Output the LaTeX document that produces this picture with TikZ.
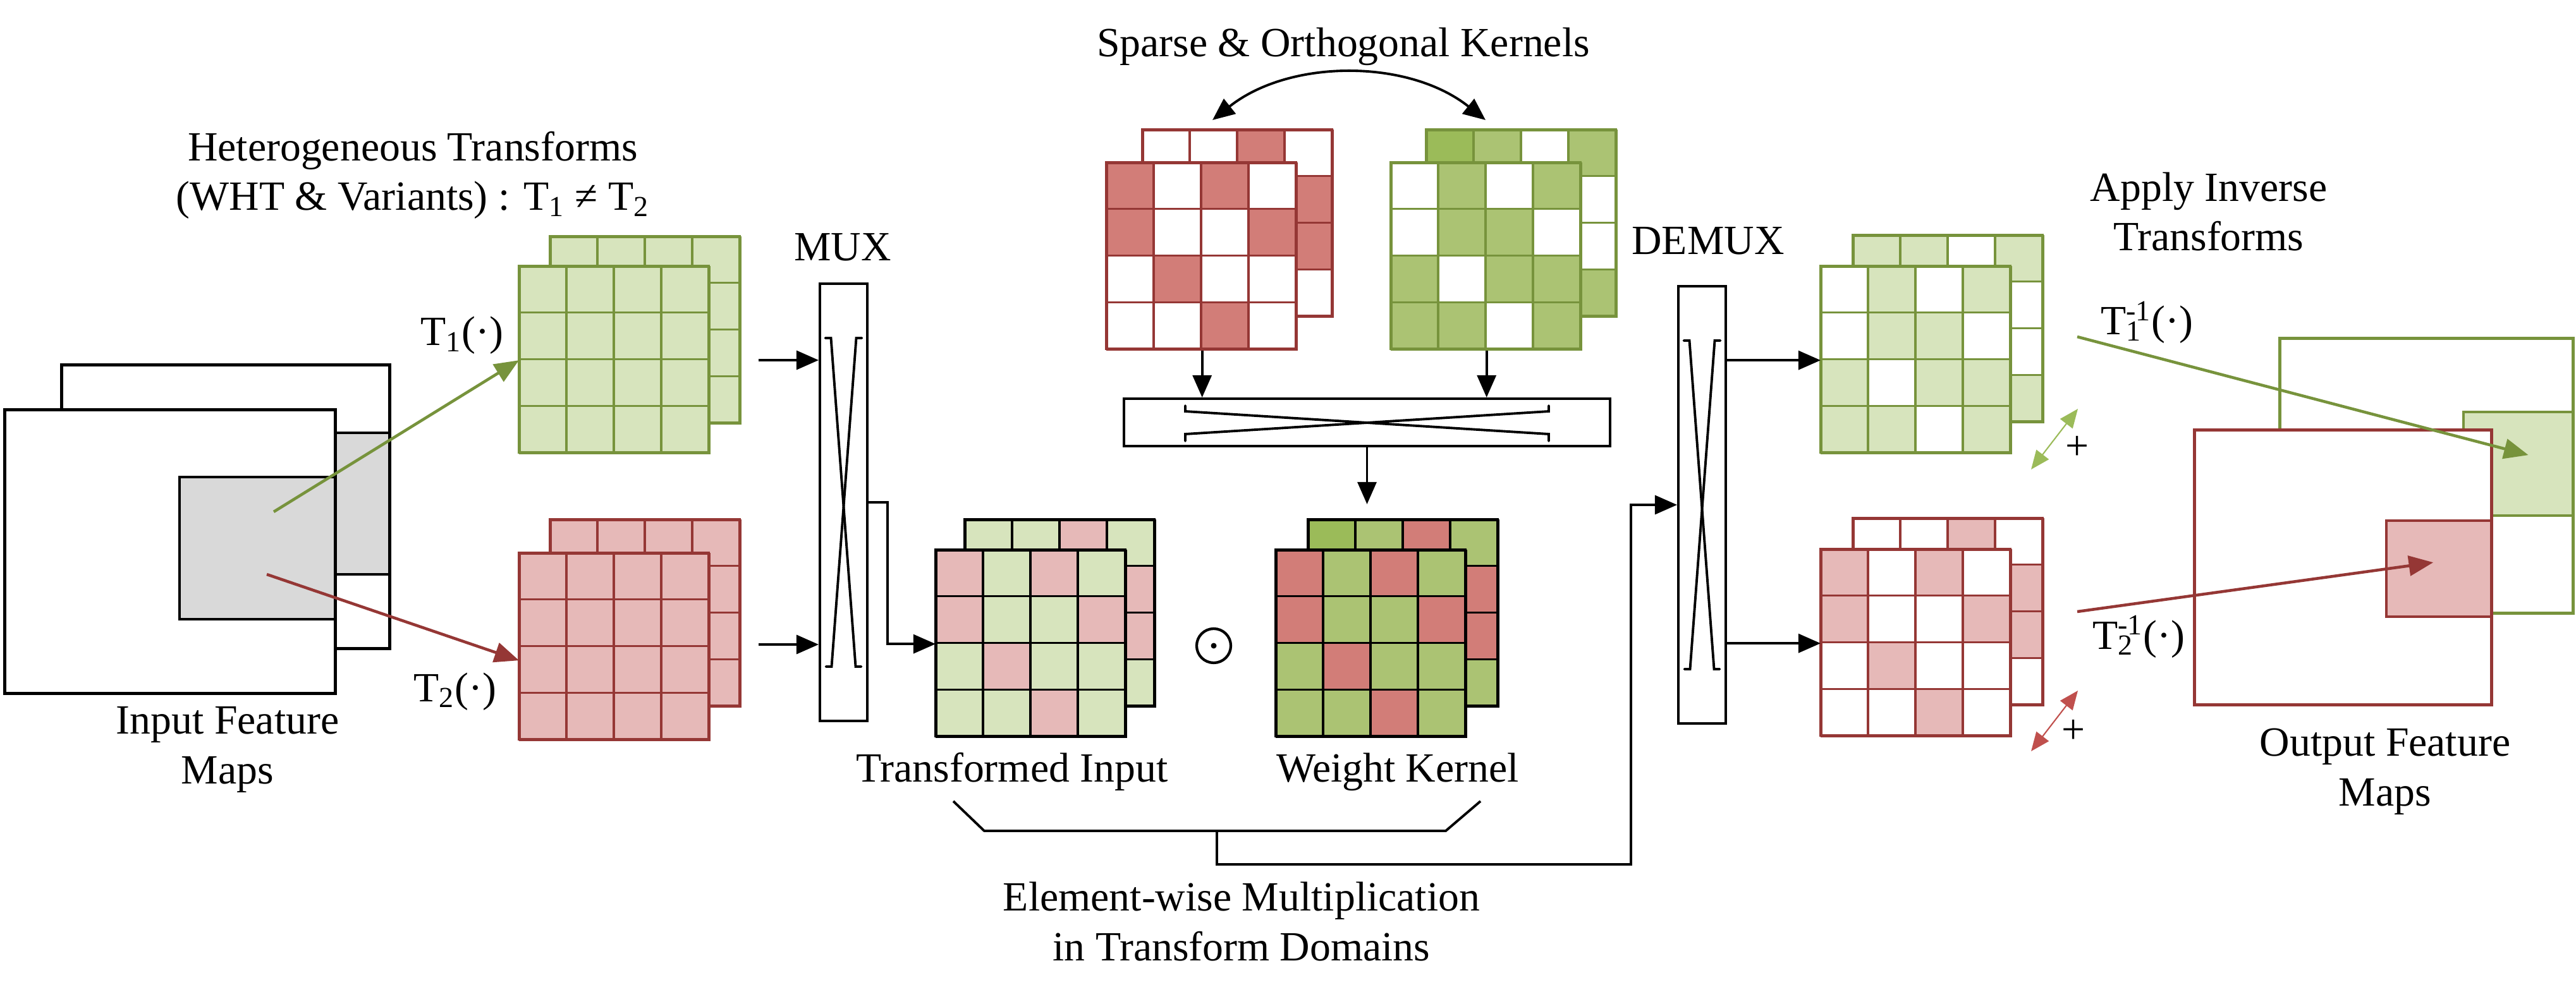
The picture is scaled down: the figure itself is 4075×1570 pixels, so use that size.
\documentclass[tikz,border=0pt]{standalone}
\usepackage{fontspec}
\setmainfont{Liberation Serif}
\usetikzlibrary{arrows.meta,calc}

\definecolor{lgreen}{HTML}{D7E4BD}
\definecolor{dgreen}{HTML}{77933C}
\definecolor{mgreen}{HTML}{ABC373}
\definecolor{kgreen}{HTML}{9BBB59}
\definecolor{lred}{HTML}{E6B9B8}
\definecolor{dred}{HTML}{953735}
\definecolor{mred}{HTML}{D27D78}
\definecolor{ared}{HTML}{C0504D}
\definecolor{lgrey}{HTML}{D9D9D9}

\newcommand{\lblfont}{\fontsize{18.7pt}{22.3pt}\selectfont}

% 4x4 grid of cells: name, top left corner, line colour, fills row by row
\newcommand{\cellgrid}[4]{%
  \foreach \f [count=\k from 0] in {#4} {
    \pgfmathtruncatemacro{\gr}{\k/4}
    \pgfmathtruncatemacro{\gc}{\k-4*\gr}
    \filldraw[cell, fill=\f, draw=#3] ($#2+(75*\gc,73.75*\gr)$) rectangle ++(75,73.75);
  }
  \node[gridframe, draw=#3] (#1) at #2 {};
}

% crossed wires inside a vertical switch box
\newcommand{\vcross}[1]{%
  \draw[xline] ($(#1)+(-29,-260)$) -- ++(9,0) -- ++(39,520) -- ++(9,0);
  \draw[xline] ($(#1)+(29,-260)$) -- ++(-9,0) -- ++(-39,520) -- ++(-9,0);
}

\begin{document}
\begin{tikzpicture}[x=0.01cm, y=-0.01cm,
    every node/.style={font=\lblfont, inner sep=0pt},
    lbl/.style={anchor=base, align=center},
    cell/.style={line width=0.9pt},
    gridframe/.style={rectangle, minimum width=3cm, minimum height=2.95cm,
      anchor=north west, line width=0.9pt},
    mapbox/.style={rectangle, draw, line width=1.4pt, anchor=north west, fill=white},
    patch/.style={rectangle, draw, line width=1.1pt, anchor=north west, fill=lgrey},
    switchbox/.style={rectangle, draw, line width=1.1pt, fill=white},
    xline/.style={line width=1.1pt, line cap=round},
    bline/.style={line width=1.1pt},
    barrow/.style={bline, -{Triangle[length=10pt,width=8.5pt]}},
    garrow/.style={draw=dgreen, line width=1.3pt, -{Triangle[length=11pt,width=9pt]}},
    rarrow/.style={draw=dred, line width=1.3pt, -{Triangle[length=11pt,width=9pt]}},
    twoway/.style={line width=0.6pt,
      {Triangle[length=8.5pt,width=7pt]}-{Triangle[length=8.5pt,width=7pt]}}]

  \useasboundingbox (0,0) rectangle (4075,1570);

  % input feature maps
  \node[mapbox, minimum width=5.19cm, minimum height=4.49cm] (inb) at (95,575) {};
  \node[patch, minimum width=2.46cm, minimum height=2.24cm] (inbp) at (368,683) {};
  \node[mapbox, minimum width=5.23cm, minimum height=4.49cm] (inf) at (5,646) {};
  \node[patch, minimum width=2.46cm, minimum height=2.25cm] (infp) at (282,753) {};
  \node[lbl] (inlbl) at (360,1240) {Input Feature\\Maps};

  \node[lbl] (hetlbl) at (653,333) {Heterogeneous Transforms\\(WHT \& Variants) : T\textsubscript{1} ≠ T\textsubscript{2}};

  % transformed copies
  \cellgrid{t1b}{(870,374)}{dgreen}{lgreen,lgreen,lgreen,lgreen,lgreen,lgreen,lgreen,lgreen,lgreen,lgreen,lgreen,lgreen,lgreen,lgreen,lgreen,lgreen}
  \cellgrid{t1}{(821,421)}{dgreen}{lgreen,lgreen,lgreen,lgreen,lgreen,lgreen,lgreen,lgreen,lgreen,lgreen,lgreen,lgreen,lgreen,lgreen,lgreen,lgreen}
  \cellgrid{t2b}{(870,822)}{dred}{lred,lred,lred,lred,lred,lred,lred,lred,lred,lred,lred,lred,lred,lred,lred,lred}
  \cellgrid{t2}{(821,875)}{dred}{lred,lred,lred,lred,lred,lred,lred,lred,lred,lred,lred,lred,lred,lred,lred,lred}
  \node[lbl] (t1lbl) at (731,547) {T\textsubscript{1}(·)};
  \node[lbl] (t2lbl) at (720,1110) {T\textsubscript{2}(·)};

  \coordinate (gsrc) at (433,810);
  \coordinate (rsrc) at (422,909);
  \draw[garrow] (gsrc) -- (t1.west);
  \draw[rarrow] (rsrc) -- ([yshift=-2.1mm]t2.west);

  % multiplexer
  \node[switchbox, minimum width=0.75cm, minimum height=6.92cm] (mux) at (1334.5,795) {};
  \vcross{mux}
  \node[lbl] (muxlbl) at (1333,413) {MUX};
  \coordinate (m1) at (1200,570);
  \coordinate (m2) at (1200,1020);
  \draw[barrow] (m1) -- (m1 -| mux.west);
  \draw[barrow] (m2) -- (m2 -| mux.west);

  % sparse and orthogonal kernels
  \node[lbl] (sparselbl) at (2125,90) {Sparse \& Orthogonal Kernels};
  \cellgrid{rkb}{(1807,205)}{dred}{white,white,mred,white,white,white,white,mred,white,white,white,mred,white,white,white,white}
  \cellgrid{rk}{(1750,257)}{dred}{mred,white,mred,white,mred,white,white,mred,white,mred,white,white,white,white,mred,white}
  \cellgrid{gkb}{(2256,205)}{dgreen}{kgreen,mgreen,white,mgreen,white,white,white,white,white,white,white,white,white,white,white,mgreen}
  \cellgrid{gk}{(2200,257)}{dgreen}{white,mgreen,white,mgreen,white,mgreen,mgreen,white,mgreen,white,mgreen,mgreen,mgreen,mgreen,white,mgreen}
  \coordinate (sa1) at (1918,190);
  \coordinate (sa2) at (2350,190);
  \draw[bline, {Triangle[length=10pt,width=8.5pt]}-{Triangle[length=10pt,width=8.5pt]}]
    (sa1) .. controls (2040,93) and (2228,93) .. (sa2);

  % kernel selector
  \node[switchbox, minimum width=7.69cm, minimum height=0.75cm] (sw) at (2162.5,668.5) {};
  \draw[xline] ($(sw)+(-287.5,-26.5)$) -- ++(0,9) -- ++(575,36) -- ++(0,11);
  \draw[xline] ($(sw)+(-287.5,29.5)$) -- ++(0,-11) -- ++(575,-36) -- ++(0,-9);
  \draw[barrow] (rk.south) -- (rk.south |- sw.north);
  \draw[barrow] (gk.south) -- (gk.south |- sw.north);
  \coordinate (wtop) at (2162.5,798);
  \draw[barrow] (sw.south) -- (wtop);

  % element-wise product
  \cellgrid{tib}{(1526,822)}{black}{lgreen,lgreen,lred,lgreen,lgreen,lgreen,lgreen,lred,lgreen,lgreen,lgreen,lred,lgreen,lgreen,lgreen,lgreen}
  \cellgrid{ti}{(1480,870)}{black}{lred,lgreen,lred,lgreen,lred,lgreen,lgreen,lred,lgreen,lred,lgreen,lgreen,lgreen,lgreen,lred,lgreen}
  \cellgrid{wkb}{(2069,822)}{black}{kgreen,mgreen,mred,mgreen,mgreen,mgreen,mgreen,mred,mgreen,mgreen,mgreen,mred,mgreen,mgreen,mgreen,mgreen}
  \cellgrid{wk}{(2018,870)}{black}{mred,mgreen,mred,mgreen,mred,mgreen,mgreen,mred,mgreen,mred,mgreen,mgreen,mgreen,mgreen,mred,mgreen}
  \node[circle, draw, line width=1.2pt, minimum size=5.4mm] (prod) at (1920,1022) {};
  \fill (prod.center) circle (0.45mm);
  \node[lbl] (tilbl) at (1601,1237) {Transformed Input};
  \node[lbl] (wklbl) at (2211,1237) {Weight Kernel};
  \draw[barrow] (mux.east) -- ++(30,0) |- (ti.west);

  % bracket and feedback into the demultiplexer
  \coordinate (brl) at (1508,1268);
  \coordinate (brr) at (2342,1268);
  \coordinate (brmid) at (1925,1315);
  \coordinate (fb) at (2580,1368);
  \draw[bline] (brl) -- ++(49,47) -- ++(730,0) -- (brr);
  \node[lbl] (ewlbl) at (1964,1520) {Element-wise Multiplication\\in Transform Domains};

  % demultiplexer
  \node[switchbox, minimum width=0.75cm, minimum height=6.92cm] (demux) at (2692.5,799) {};
  \vcross{demux}
  \node[lbl] (demuxlbl) at (2702,403) {DEMUX};
  \draw[barrow] (brmid) |- (fb) |- (demux.west);

  % products per transform
  \cellgrid{gob}{(2931,372)}{dgreen}{lgreen,lgreen,white,lgreen,lgreen,lgreen,lgreen,white,lgreen,lgreen,lgreen,white,lgreen,lgreen,lgreen,lgreen}
  \cellgrid{go}{(2880,421)}{dgreen}{white,lgreen,white,lgreen,white,lgreen,lgreen,white,lgreen,white,lgreen,lgreen,lgreen,lgreen,white,lgreen}
  \cellgrid{rob}{(2931,820)}{dred}{white,white,lred,white,white,white,white,lred,white,white,white,lred,white,white,white,white}
  \cellgrid{ro}{(2880,869)}{dred}{lred,white,lred,white,lred,white,white,lred,white,lred,white,white,white,white,lred,white}
  \draw[barrow] (demux.east |- go.west) -- (go.west);
  \draw[barrow] (demux.east |- ro.west) -- (ro.west);

  \coordinate (gd1) at (3287,647);
  \coordinate (gd2) at (3213,743);
  \coordinate (rd1) at (3287,1093);
  \coordinate (rd2) at (3213,1189);
  \draw[twoway, kgreen] (gd1) -- (gd2);
  \draw[twoway, ared] (rd1) -- (rd2);
  \node (plus1) at (3286,709) {+};
  \node (plus2) at (3280,1158) {+};

  % output feature maps
  \node[lbl] (invlbl) at (3494,397) {Apply Inverse\\Transforms};
  \node[mapbox, draw=dgreen, minimum width=4.64cm, minimum height=4.35cm] (outb) at (3604,533) {};
  \node[patch, draw=dgreen, fill=lgreen, line width=1.2pt, minimum width=1.73cm, minimum height=1.64cm] (gp) at (3895,650) {};
  \node[mapbox, draw=dred, minimum width=4.70cm, minimum height=4.35cm] (outf) at (3469,678) {};
  \node[patch, draw=dred, fill=lred, line width=1.2pt, minimum width=1.66cm, minimum height=1.52cm] (rp) at (3773,822) {};
  \node[lbl] (outlbl) at (3773,1275) {Output Feature\\Maps};

  \node[lbl] (inv1lbl) at (3396,530) {T\rlap{\textsubscript{1}}\textsuperscript{-1}(·)};
  \node[lbl] (inv2lbl) at (3383,1027) {T\rlap{\textsubscript{2}}\textsuperscript{-1}(·)};
  \coordinate (gi) at (3286,533);
  \coordinate (ri) at (3286,968);
  \draw[garrow] (gi) -- ([shift={(16,-14)}]gp.center);
  \draw[rarrow] (ri) -- ([shift={(-9,-10)}]rp.center);
\end{tikzpicture}
\end{document}
